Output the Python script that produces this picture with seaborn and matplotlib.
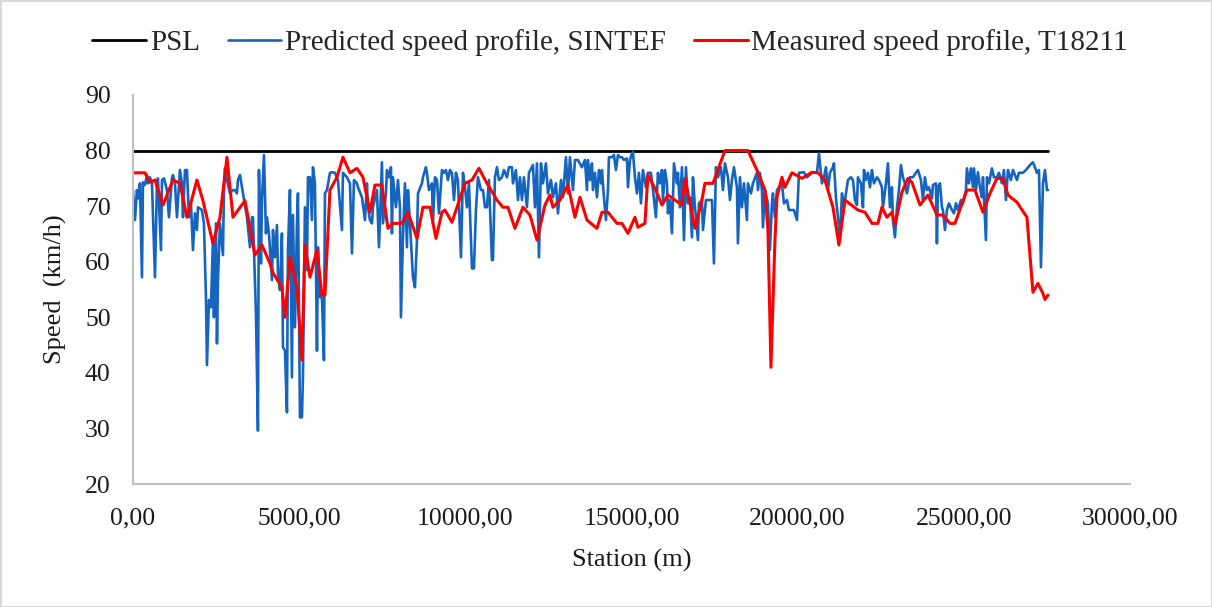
import pandas as pd
import seaborn as sns
import matplotlib.pyplot as plt
from matplotlib.ticker import FuncFormatter

# PSL (posted speed limit)
psl_station = [0, 27532]
psl_speed = [80, 80]

# predicted speed profile, SINTEF
pred_station = [
    0, 30, 60, 120, 150, 211, 271, 301, 361, 421,
    451, 512, 572, 662, 722, 752, 843, 873, 933, 1023,
    1083, 1174, 1204, 1264, 1324, 1414, 1474, 1505, 1565, 1625,
    1685, 1745, 1805, 1866, 1926, 1956, 2076, 2136, 2197, 2227,
    2287, 2347, 2407, 2437, 2497, 2528, 2558, 2618, 2708, 2738,
    2768, 2828, 2919, 3009, 3069, 3129, 3159, 3220, 3280, 3310,
    3430, 3521, 3581, 3611, 3701, 3761, 3791, 3852, 3882, 3942,
    4002, 4032, 4092, 4183, 4213, 4273, 4333, 4363, 4423, 4483,
    4514, 4574, 4634, 4664, 4724, 4784, 4814, 4875, 4935, 4965,
    5025, 5085, 5115, 5175, 5236, 5266, 5326, 5386, 5416, 5476,
    5537, 5567, 5627, 5687, 5747, 5777, 5838, 5928, 5988, 6078,
    6168, 6289, 6319, 6439, 6530, 6590, 6650, 6740, 6770, 6891,
    6981, 7041, 7071, 7131, 7192, 7222, 7342, 7402, 7492, 7523,
    7613, 7643, 7703, 7763, 7793, 7823, 7914, 7974, 8034, 8064,
    8124, 8184, 8245, 8275, 8335, 8395, 8425, 8485, 8546, 8576,
    8696, 8726, 8816, 8846, 8907, 8997, 9027, 9087, 9147, 9208,
    9298, 9358, 9418, 9478, 9539, 9599, 9659, 9719, 9779, 9870,
    9930, 9990, 10050, 10110, 10201, 10261, 10321, 10381, 10471, 10532,
    10592, 10652, 10712, 10802, 10832, 10893, 10953, 11013, 11103, 11163,
    11254, 11314, 11404, 11434, 11524, 11585, 11645, 11705, 11765, 11855,
    11916, 12036, 12096, 12156, 12217, 12277, 12337, 12427, 12487, 12578,
    12638, 12728, 12788, 12879, 12939, 13029, 13089, 13149, 13240, 13300,
    13390, 13510, 13601, 13661, 13691, 13751, 13811, 13841, 13902, 13962,
    14022, 14082, 14112, 14172, 14233, 14293, 14323, 14413, 14473, 14533,
    14594, 14654, 14714, 14774, 14864, 14895, 14955, 15015, 15045, 15105,
    15165, 15226, 15286, 15346, 15436, 15496, 15587, 15647, 15737, 15797,
    15857, 15918, 15948, 16008, 16068, 16098, 16158, 16219, 16279, 16369,
    16399, 16459, 16519, 16580, 16640, 16700, 16760, 16820, 16850, 16911,
    17001, 17031, 17121, 17151, 17242, 17422, 17482, 17542, 17603, 17693,
    17753, 17813, 17904, 17964, 18024, 18084, 18174, 18204, 18265, 18325,
    18385, 18475, 18505, 18596, 18656, 18776, 18806, 18866, 18927, 18957,
    19017, 19107, 19167, 19228, 19258, 19318, 19378, 19528, 19589, 19679,
    19739, 19889, 19980, 20040, 20190, 20281, 20431, 20582, 20642, 20732,
    20792, 20852, 20913, 20973, 21063, 21093, 21153, 21213, 21274, 21334,
    21394, 21454, 21514, 21605, 21665, 21725, 21785, 21815, 21906, 21966,
    21996, 22056, 22116, 22176, 22237, 22297, 22387, 22447, 22537, 22568,
    22658, 22718, 22778, 22838, 22868, 22929, 22989, 23049, 23109, 23169,
    23229, 23290, 23380, 23470, 23560, 23621, 23711, 23771, 23831, 23891,
    23952, 24042, 24072, 24162, 24192, 24222, 24283, 24343, 24373, 24433,
    24493, 24553, 24644, 24704, 24764, 24824, 24915, 24975, 25065, 25095,
    25155, 25215, 25276, 25306, 25366, 25426, 25486, 25546, 25577, 25667,
    25697, 25757, 25847, 25907, 25998, 26058, 26148, 26208, 26269, 26329,
    26419, 26479, 26600, 26660, 26780, 26870, 26991, 27081, 27141, 27201,
    27262, 27322, 27382, 27442, 27502, 27532,
]
pred_speed = [
    72.9, 70.2, 67.5, 72.9, 71.4, 74.1, 57.2, 74.3, 73.8, 75.6,
    74.1, 75.2, 74.1, 57.2, 74.1, 75.0, 62.1, 74.7, 75.0, 72.9,
    68.0, 75.0, 75.6, 74.1, 68.0, 76.5, 74.1, 68.0, 76.5, 76.5,
    68.0, 70.5, 62.1, 68.7, 65.7, 69.8, 69.3, 66.9, 53.6, 41.4,
    53.1, 51.8, 63.9, 50.0, 66.9, 45.3, 56.7, 66.9, 61.2, 72.9,
    76.8, 74.7, 72.3, 72.9, 72.9, 72.3, 74.7, 75.6, 73.4, 72.3,
    68.0, 62.6, 68.0, 68.0, 50.7, 29.6, 76.5, 59.7, 71.1, 79.2,
    65.1, 68.0, 65.1, 56.7, 65.7, 60.8, 66.6, 58.0, 54.9, 65.1,
    44.6, 44.0, 32.9, 62.1, 72.9, 39.2, 68.4, 48.2, 66.9, 72.3,
    32.0, 32.0, 39.2, 69.8, 58.5, 75.2, 75.2, 67.5, 77.0, 74.1,
    44.0, 62.6, 53.6, 53.6, 42.3, 72.3, 72.9, 76.0, 76.1, 76.0,
    74.7, 65.7, 76.0, 75.2, 74.1, 61.5, 74.7, 74.1, 73.4, 71.6,
    67.5, 74.1, 69.8, 67.5, 66.9, 69.8, 72.9, 62.6, 77.9, 66.9,
    72.3, 76.5, 75.2, 77.0, 65.1, 75.2, 69.8, 74.7, 69.8, 50.0,
    64.4, 74.1, 62.6, 72.9, 66.9, 60.3, 57.2, 55.4, 63.9, 72.3,
    74.1, 75.2, 77.0, 76.0, 72.9, 74.1, 66.9, 75.2, 74.7, 68.7,
    76.5, 76.0, 76.5, 74.7, 76.5, 76.0, 71.1, 76.0, 74.7, 60.8,
    76.0, 73.4, 69.8, 74.1, 58.8, 58.8, 69.3, 75.2, 72.9, 72.9,
    69.8, 69.8, 74.7, 60.3, 60.3, 75.2, 77.0, 74.7, 75.2, 76.5,
    75.2, 77.0, 77.0, 74.1, 76.5, 71.1, 75.2, 71.1, 75.2, 69.8,
    76.0, 77.4, 69.8, 77.7, 60.8, 77.7, 74.1, 77.7, 72.3, 74.7,
    71.6, 74.1, 68.7, 74.7, 71.6, 78.8, 72.3, 78.8, 72.9, 78.3,
    78.3, 77.0, 78.3, 72.9, 78.3, 74.7, 77.7, 72.9, 76.0, 71.6,
    76.5, 74.1, 76.5, 71.6, 67.5, 72.9, 78.8, 78.8, 79.2, 76.5,
    79.2, 78.8, 78.8, 78.3, 78.6, 73.4, 78.3, 79.5, 79.7, 75.2,
    72.3, 76.0, 70.5, 76.5, 73.4, 76.0, 76.0, 72.9, 68.0, 76.0,
    74.1, 76.5, 71.1, 76.5, 74.1, 68.7, 71.1, 65.1, 77.7, 74.1,
    76.0, 69.8, 77.0, 63.9, 77.0, 70.5, 71.6, 64.4, 75.2, 69.8,
    63.9, 70.5, 71.1, 65.7, 71.1, 71.1, 59.7, 77.0, 75.2, 77.0,
    72.9, 77.7, 75.2, 71.1, 74.7, 77.0, 73.4, 63.3, 75.2, 69.8,
    74.1, 67.5, 74.1, 72.3, 74.1, 76.0, 72.9, 76.0, 72.9, 66.2,
    72.9, 70.5, 62.1, 70.5, 72.3, 68.0, 72.9, 74.1, 70.5, 71.1,
    69.3, 69.3, 67.5, 76.0, 76.1, 75.2, 76.0, 76.0, 79.5, 74.1,
    75.2, 77.0, 72.9, 76.0, 77.0, 77.7, 71.6, 68.0, 63.9, 72.3,
    69.8, 72.3, 74.7, 75.2, 74.7, 71.1, 70.2, 75.2, 74.1, 69.8,
    76.5, 74.7, 76.0, 73.4, 76.5, 74.1, 75.2, 74.7, 73.4, 69.8,
    74.1, 77.7, 69.8, 73.4, 67.5, 64.4, 69.8, 72.9, 77.4, 75.2,
    74.1, 72.3, 75.2, 75.2, 76.0, 76.5, 74.7, 71.1, 75.2, 72.9,
    73.4, 71.4, 73.8, 74.1, 63.3, 73.4, 74.1, 69.8, 69.3, 65.7,
    69.3, 70.5, 69.3, 68.7, 70.5, 69.3, 71.1, 70.5, 72.9, 76.8,
    74.1, 76.8, 73.4, 76.8, 72.9, 76.1, 73.4, 71.6, 75.2, 63.9,
    75.2, 74.1, 76.8, 75.2, 75.2, 76.0, 74.1, 76.5, 71.1, 76.5,
    74.7, 76.5, 74.7, 76.0, 76.0, 76.5, 77.4, 77.9, 77.0, 76.0,
    76.5, 59.0, 74.1, 76.5, 72.9, 72.9,
]

# measured speed profile, T18211
meas_station = [
    0, 211, 361, 512, 662, 903, 1204, 1414, 1625, 1926,
    2106, 2407, 2618, 2828, 3009, 3370, 3671, 3882, 4122, 4213,
    4483, 4574, 4724, 4935, 5085, 5175, 5326, 5537, 5687, 5777,
    5928, 6138, 6319, 6530, 6740, 6921, 7131, 7282, 7492, 7673,
    7823, 8094, 8275, 8546, 8726, 8937, 9117, 9298, 9388, 9599,
    9749, 9990, 10201, 10411, 10652, 10953, 11133, 11284, 11494, 11735,
    11946, 12156, 12397, 12548, 12638, 12848, 13089, 13300, 13450, 13661,
    13962, 14112, 14293, 14564, 14714, 14895, 15105, 15195, 15406, 15496,
    15707, 15918, 16098, 16519, 16610, 16760, 16911, 17121, 17211, 17452,
    17813, 18505, 18806, 19017, 19107, 19197, 19318, 19378, 19528, 19619,
    19829, 20130, 20431, 20612, 20822, 21063, 21244, 21424, 21815, 22026,
    22237, 22417, 22537, 22688, 22838, 22929, 23139, 23320, 23440, 23681,
    23922, 24192, 24373, 24584, 24734, 25095, 25336, 25577, 25787, 25998,
    26178, 26329, 26600, 26900, 27081, 27231, 27382, 27442, 27532,
]
meas_speed = [
    76.0, 76.0, 76.0, 74.3, 74.7, 70.2, 74.7, 74.1, 68.0, 74.7,
    71.0, 63.3, 68.0, 78.8, 68.0, 71.0, 61.2, 63.0, 59.7, 58.0,
    55.4, 50.0, 60.8, 55.4, 42.3, 63.0, 57.2, 62.1, 54.0, 54.0,
    72.9, 75.2, 78.8, 76.0, 76.8, 75.2, 68.9, 73.8, 73.8, 66.0,
    66.9, 66.9, 68.9, 64.2, 69.8, 69.8, 64.2, 68.9, 69.3, 67.1,
    69.8, 74.1, 74.7, 76.8, 74.1, 71.1, 69.8, 69.8, 66.0, 69.8,
    68.4, 63.9, 70.2, 72.0, 69.8, 71.1, 73.8, 68.0, 71.6, 67.5,
    66.0, 68.9, 68.9, 66.9, 66.9, 65.1, 68.0, 66.2, 66.9, 75.6,
    73.2, 70.2, 72.0, 70.2, 75.0, 70.5, 66.0, 71.1, 74.1, 74.1,
    80.0, 80.0, 76.1, 72.9, 65.7, 41.0, 63.9, 71.6, 75.2, 73.4,
    76.0, 75.0, 76.1, 76.0, 74.7, 69.8, 63.0, 71.1, 69.3, 68.9,
    66.9, 66.9, 69.8, 68.0, 68.9, 66.6, 72.5, 75.0, 74.3, 70.2,
    72.0, 68.4, 68.4, 66.9, 66.9, 72.9, 72.9, 68.9, 72.3, 75.0,
    75.0, 72.0, 70.7, 68.0, 54.5, 56.1, 54.3, 53.2, 54.0,
]

psl = pd.DataFrame({'station': psl_station, 'speed': psl_speed})
pred = pd.DataFrame({'station': pred_station, 'speed': pred_speed})
meas = pd.DataFrame({'station': meas_station, 'speed': meas_speed})

sns.set_theme(style='white')
plt.rcParams['font.family'] = ['Liberation Serif', 'DejaVu Serif']

fig = plt.figure(figsize=(12.12, 6.07), dpi=100)
fig.patch.set_edgecolor('#d9d9d9')
fig.patch.set_linewidth(2)
ax = fig.add_axes([0.1097, 0.2026, 0.8226, 0.6409])

sns.lineplot(data=psl, x='station', y='speed', ax=ax, color='black',
             linewidth=2.0, estimator=None, label='PSL')
sns.lineplot(data=pred, x='station', y='speed', ax=ax, color='#1565c0',
             linewidth=1.9, estimator=None, label='Predicted speed profile, SINTEF')
sns.lineplot(data=meas, x='station', y='speed', ax=ax, color='#ff0000',
             linewidth=2.2, estimator=None, label='Measured speed profile, T18211')

ax.set_xlim(0, 30000)
ax.set_ylim(20, 90)
ax.set_xticks(range(0, 30001, 5000))
ax.set_yticks(range(20, 91, 10))
ax.xaxis.set_major_formatter(FuncFormatter(lambda v, p: f'{v:.2f}'.replace('.', ',')))
ax.tick_params(axis='x', length=0, pad=17, labelsize=18.5, colors='#1a1a1a')
ax.tick_params(axis='y', length=0, pad=16, labelsize=18.5, colors='#1a1a1a')

ax.set_xlabel('Station (m)', fontsize=19, labelpad=14, color='#1a1a1a')
ax.set_ylabel('Speed  (km/h)', fontsize=19, labelpad=13, color='#1a1a1a')

for side in ['top', 'right']:
    ax.spines[side].set_visible(False)
for side in ['left', 'bottom']:
    ax.spines[side].set_color('#bfbfbf')
    ax.spines[side].set_linewidth(1.5)

handles, labels = ax.get_legend_handles_labels()
ax.get_legend().remove()
fig.legend(handles, labels, loc='center', bbox_to_anchor=(610 / 1212, 1 - 43 / 607),
           ncol=3, frameon=False, fontsize=21, handlelength=1.85,
           handletextpad=0.12, columnspacing=0.95)

fig.savefig('out.png', dpi=100)
